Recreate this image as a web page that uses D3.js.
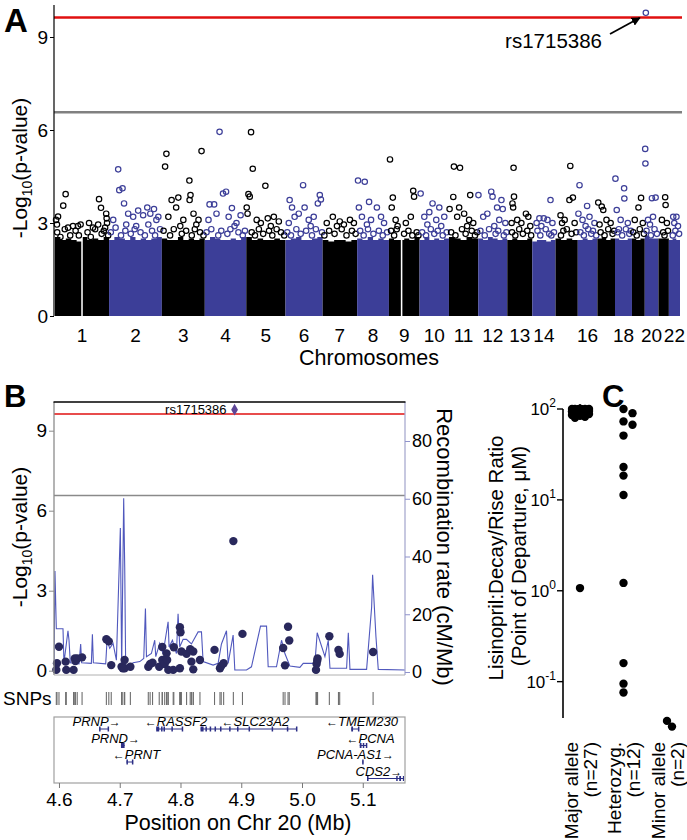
<!DOCTYPE html>
<html>
<head>
<meta charset="utf-8">
<script src="https://cdn.jsdelivr.net/npm/d3@7"></script>
<style>
body { margin: 0; background: #fff; }
svg { font-family: "Liberation Sans", Arial, sans-serif; }
</style>
</head>
<body>
<svg id="fig" width="687" height="840"></svg>
<script>
// ---------- Panel A data (genome-wide scan) ----------
const chromosomes = d3.range(1, 23);
// chromosome lengths, Mb
const chrLengths = [249.3, 243.2, 198.0, 191.2, 180.9, 171.1, 159.1, 146.4, 141.2, 135.5, 135.0,
  133.9, 115.2, 107.3, 102.5, 90.4, 81.2, 78.1, 59.1, 63.0, 48.1, 51.3];
const chrTickLabels = ["1","2","3","4","5","6","7","8","9","10","11","12","13","14","","16","","18","","20","","22"];
// top of the solid mass of SNPs, read across each chromosome
const denseTop = [
  [2.55, 2.45, 2.5, 2.45, 2.4, 2.55, 2.45, 2.5, 2.45, 2.55],
  [2.45, 2.55, 2.5, 2.45, 2.55, 2.45, 2.5, 2.45, 2.5, 2.55],
  [2.5, 2.45, 2.45, 2.55, 2.45, 2.5, 2.45, 2.5],
  [2.45, 2.55, 2.5, 2.45, 2.45, 2.5, 2.45, 2.55],
  [2.55, 2.45, 2.5, 2.45, 2.45, 2.5, 2.45],
  [2.45, 2.5, 2.55, 2.45, 2.45, 2.5, 2.55],
  [2.45, 2.4, 2.45, 2.45, 2.4, 2.45],
  [2.5, 2.45, 2.55, 2.45, 2.5, 2.45],
  [2.5, 2.45, 2.45, 2.5, 2.45, 2.55],
  [2.45, 2.55, 2.45, 2.5, 2.45, 2.5],
  [2.55, 2.5, 2.45, 2.55, 2.5],
  [2.5, 2.45, 2.55, 2.5, 2.45, 2.5],
  [2.45, 2.5, 2.45, 2.45, 2.5],
  [2.4, 2.45, 2.45, 2.4, 2.45],
  [2.5, 2.45, 2.5, 2.45],
  [2.45, 2.5, 2.45, 2.5],
  [2.5, 2.55, 2.45, 2.5],
  [2.5, 2.45, 2.45, 2.5],
  [2.5, 2.45, 2.5],
  [2.6, 2.5, 2.5],
  [2.5, 2.5, 2.5],
  [2.45, 2.5, 2.45]
];
// centromere gaps with no SNPs: [chr, startMb, endMb]
const chrGaps = [[1, 121, 128], [9, 55, 62]];
// SNPs standing above the solid mass: [chr, positionMb, -log10 p]
const peakSnps = [
  [1,49,3.93],[1,38,3.56],[1,14,3.21],[1,5,3.1],[1,9,2.95],[1,203,3.77],[1,212,3.49],[1,236,3.3],[1,238,3.15],[1,240,3.0],
  [1,231,2.85],[1,118,2.95],[1,106,2.9],[1,157,3.0],[1,175,2.85],[1,60,2.85],[1,83,2.9],[1,199,2.95],
  [2,42,4.73],[2,47,4.06],[2,62,4.12],[2,69,3.63],[2,176,3.5],[2,207,3.45],[2,19,3.1],[2,88,3.3],[2,111,3.2],[2,134,3.4],
  [2,157,3.25],[2,190,3.3],[2,218,3.1],[2,227,3.2],[2,79,2.95],[2,125,2.9],[2,181,2.95],
  [3,21,5.23],[3,15,4.82],[3,45,3.74],[3,76,3.82],[3,66,3.5],[3,127,4.37],[3,132,3.9],[3,128,3.74],[3,183,5.32],
  [3,30,3.2],[3,99,3.1],[3,146,3.3],[3,169,3.1],[3,85,2.9],[3,159,2.95],
  [4,68,5.94],[4,98,4.01],[4,84,3.95],[4,22,3.6],[4,43,3.6],[4,125,3.48],[4,17,3.1],[4,54,3.3],[4,110,3.2],[4,146,3.0],
  [4,165,3.25],[4,137,2.9],
  [5,22,5.93],[5,30,4.75],[5,88,4.2],[5,10,3.93],[5,16,3.85],[5,2,3.5],[5,6,3.3],[5,99,3.15],[5,48,3.1],[5,67,3.0],
  [5,127,3.2],[5,150,3.05],[5,113,2.9],
  [6,81,4.22],[6,19,3.74],[6,30,3.5],[6,158,3.9],[6,163,3.76],[6,149,3.63],[6,88,3.5],[6,42,3.2],[6,61,3.3],[6,107,3.1],
  [6,130,3.2],[6,15,3.0],[6,116,2.9],
  [7,47,3.2],[7,79,3.05],[7,126,3.1],[7,19,3.0],[7,98,2.95],[7,144,3.0],[7,66,2.9],
  [8,4,4.37],[8,35,4.33],[8,55,3.68],[8,8,3.5],[8,91,3.5],[8,22,3.2],[8,64,3.1],[8,110,3.2],[8,124,3.0],[8,45,2.95],
  [9,5,5.05],[9,18,3.82],[9,13,3.5],[9,112,4.04],[9,116,3.85],[9,31,3.1],[9,78,3.0],[9,101,3.2],[9,40,2.9],
  [10,5,3.95],[10,60,3.63],[10,91,3.5],[10,22,3.2],[10,45,3.35],[10,77,3.1],[10,114,3.2],[10,36,2.95],[10,100,2.9],
  [11,23,4.82],[11,51,4.78],[11,20,3.84],[11,47,3.5],[11,3,3.45],[11,98,3.9],[11,70,3.3],[11,93,3.1],[11,38,3.2],
  [11,112,3.0],[11,84,2.9],
  [12,1,3.9],[12,60,4.01],[12,66,3.85],[12,107,3.74],[12,87,3.5],[12,113,3.45],[12,23,3.2],[12,42,3.3],[12,97,3.1],
  [12,125,3.0],[12,74,2.9],
  [13,29,4.78],[13,31,3.85],[13,24,3.63],[13,27,3.5],[13,86,3.3],[13,97,3.2],[13,46,3.1],[13,65,3.0],[13,20,3.0],[13,106,2.9],
  [14,84,3.74],[14,33,3.15],[14,53,3.15],[14,20,3.0],[14,70,3.1],[14,93,3.0],[14,42,2.9],
  [15,68,4.84],[15,80,3.82],[15,64,3.74],[15,23,3.25],[15,42,3.1],[15,30,3.0],[15,88,3.0],
  [16,8,4.22],[16,43,3.55],[16,3,3.3],[16,22,3.1],[16,54,3.2],[16,77,3.0],[16,36,2.9],
  [17,4,3.66],[17,20,3.53],[17,27,3.42],[17,42,3.1],[17,61,3.0],[17,10,2.95],
  [18,2,4.43],[18,42,4.12],[18,43,3.79],[18,8,3.42],[18,26,3.1],[18,59,3.0],[18,18,2.8],
  [19,42,3.81],[19,30,3.5],[19,13,3.1],[19,50,3.0],
  [20,2,5.39],[20,3,4.92],[20,33,3.8],[20,50,3.82],[20,15,3.1],[20,38,3.2],[20,24,2.95],
  [21,31,3.83],[21,33,3.58],[21,16,3.1],[21,39,3.0],
  [22,20,3.2],[22,35,3.2],[22,25,3.0],[22,42,2.9]
];
// SNPs in the crowded band just above the solid mass
const bandSnps = [
  [1,10,2.7],[1,25,2.55],[1,45,2.8],[1,70,2.6],[1,95,2.75],[1,110,2.6],[1,150,2.7],[1,165,2.55],[1,185,2.8],[1,215,2.65],[1,225,2.75],[1,245,2.6],
  [2,8,2.7],[2,30,2.85],[2,55,2.6],[2,75,2.75],[2,100,2.65],[2,118,2.8],[2,145,2.7],[2,165,2.6],[2,198,2.75],[2,212,2.6],[2,235,2.8],
  [3,8,2.75],[3,38,2.6],[3,55,2.8],[3,92,2.65],[3,112,2.75],[3,138,2.6],[3,152,2.8],[3,176,2.7],[3,192,2.6],
  [4,8,2.7],[4,30,2.8],[4,62,2.6],[4,76,2.75],[4,104,2.65],[4,118,2.8],[4,155,2.7],[4,175,2.6],[4,185,2.75],
  [5,25,2.7],[5,40,2.6],[5,58,2.8],[5,78,2.65],[5,105,2.75],[5,120,2.6],[5,140,2.8],[5,160,2.7],[5,175,2.6],
  [6,8,2.7],[6,25,2.6],[6,50,2.8],[6,70,2.65],[6,95,2.75],[6,122,2.6],[6,140,2.8],[6,168,2.7],
  [7,8,2.6],[7,30,2.75],[7,55,2.65],[7,88,2.8],[7,110,2.6],[7,135,2.75],[7,152,2.65],
  [8,14,2.75],[8,30,2.6],[8,50,2.8],[8,75,2.65],[8,100,2.75],[8,118,2.6],[8,138,2.7],
  [9,10,2.75],[9,24,2.6],[9,36,2.8],[9,70,2.65],[9,90,2.75],[9,108,2.6],[9,128,2.7],[9,136,2.6],
  [10,12,2.7],[10,30,2.6],[10,52,2.8],[10,68,2.65],[10,84,2.75],[10,107,2.6],[10,125,2.7],
  [11,10,2.7],[11,30,2.6],[11,60,2.8],[11,77,2.65],[11,105,2.75],[11,120,2.6],[11,130,2.7],
  [12,10,2.75],[12,30,2.6],[12,50,2.8],[12,80,2.65],[12,92,2.75],[12,118,2.6],[12,130,2.7],
  [13,22,2.7],[13,37,2.6],[13,55,2.8],[13,72,2.65],[13,92,2.75],[13,110,2.6],
  [14,24,2.75],[14,37,2.6],[14,62,2.8],[14,78,2.65],[14,88,2.6],[14,100,2.7],
  [15,25,2.6],[15,36,2.75],[15,52,2.8],[15,74,2.65],[15,95,2.7],
  [16,12,2.7],[16,28,2.6],[16,48,2.8],[16,62,2.65],[16,70,2.75],[16,85,2.6],
  [17,15,2.7],[17,33,2.6],[17,50,2.8],[17,70,2.65],[17,77,2.75],
  [18,12,2.7],[18,33,2.6],[18,50,2.8],[18,66,2.65],[18,73,2.75],
  [19,6,2.7],[19,22,2.6],[19,36,2.8],[19,55,2.65],
  [20,8,2.75],[20,28,2.6],[20,45,2.8],[20,56,2.65],
  [21,22,2.7],[21,28,2.6],[21,44,2.75],
  [22,18,2.6],[22,30,2.75],[22,47,2.65]
];
const topHit = [20, 4.89, 9.78];           // rs1715386
const thresholdLines = [6.57, 9.63];       // grey and red lines

// ---------- Panel B data (chr 20 region) ----------
// [position Mb, -log10 p]
const regionSnps = [
  [4.5956,0.03],[4.5967,0.28],[4.600,0.90],[4.611,0.34],[4.612,0.03],[4.624,0.03],[4.626,0.46],[4.627,0.36],[4.630,0.46],
  [4.638,0.50],[4.678,1.18],[4.682,1.10],[4.686,0.21],[4.703,0.15],[4.705,0.09],[4.708,0.40],[4.708,0.09],[4.7175,0.15],
  [4.747,0.15],[4.750,0.25],[4.754,0.30],[4.765,0.15],[4.770,0.89],[4.770,0.40],[4.774,0.25],[4.777,0.65],[4.778,0.40],
  [4.780,0.03],[4.788,0.03],[4.789,0.88],[4.799,1.63],[4.800,1.44],[4.799,0.09],[4.8015,0.72],[4.810,0.63],[4.816,0.81],
  [4.821,0.72],[4.818,0.34],[4.821,0.05],[4.832,0.40],[4.856,0.78],[4.865,0.09],[4.867,0.18],[4.871,0.28],[4.887,4.86],
  [4.902,1.38],[4.969,0.85],[4.972,0.20],[4.977,1.65],[4.979,1.13],[5.023,0.03],[5.024,0.25],[5.025,0.37],[5.0256,0.46],
  [5.045,1.29],[5.060,0.78],[5.062,0.63],[5.117,0.70]
];
const leadSnp = ["rs1715386", 4.889, 9.79];
// recombination rate, [position Mb, cM/Mb]
const recombRate = [
  [4.5918,1.8],[4.5934,35],[4.5956,15],[4.6066,15],[4.6082,3.2],[4.6148,14.3],[4.6165,11],[4.6187,3.2],[4.633,2.8],
  [4.6357,9.7],[4.6373,3.2],[4.6533,3],[4.655,13.1],[4.6566,3.2],[4.6769,2.8],[4.6791,11],[4.6835,8.2],[4.689,9.9],
  [4.6945,4.1],[4.701,49.9],[4.7032,1.8],[4.7065,60.2],[4.7082,36.3],[4.7098,0.9],[4.722,3.2],[4.733,3.6],[4.7395,4.7],
  [4.7423,22],[4.744,5.3],[4.7521,6.4],[4.7576,11],[4.7593,5.3],[4.7658,9.9],[4.7713,6.4],[4.7796,17.4],[4.7812,8.7],
  [4.7867,11],[4.7933,6.4],[4.796,20.2],[4.7988,8.7],[4.8043,11.3],[4.8098,11.3],[4.818,9.7],[4.829,13.9],[4.8345,13.9],
  [4.8372,3.6],[4.8537,2.4],[4.8619,3],[4.8674,9.7],[4.8757,14.3],[4.8784,3],[4.8866,12.8],[4.8894,0.7],[4.9086,0.7],
  [4.9168,1.8],[4.9317,15.9],[4.9416,15.9],[4.9443,1.8],[4.958,1.8],[4.9663,11],[4.9718,6.4],[4.98,2.1],[4.9965,1.6],
  [5.002,3],[5.0212,3],[5.025,13.6],[5.0377,5.3],[5.0432,11],[5.046,1.3],[5.0734,1.3],[5.0762,13.6],[5.0789,0.9],
  [5.1063,0.9],[5.1146,22.5],[5.1162,33.7],[5.1217,12.2],[5.1255,0.9],[5.1695,0.7]
];
const geneNames  = ["PRNP", "PRND", "PRNT", "RASSF2", "SLC23A2", "TMEM230", "PCNA", "PCNA-AS1", "CDS2"];
const geneStart  = [4.666, 4.702, 4.711, 4.760, 4.833, 5.081, 5.095, 5.099, 5.107];
const geneEnd    = [4.682, 4.708, 4.722, 4.803, 4.991, 5.094, 5.107, 5.101, 5.178];
const geneStrand = ["+", "+", "-", "-", "-", "-", "-", "+", "+"];
const geneExons  = [
  [[4.666,4.667],[4.680,4.682]],
  [[4.702,4.708]],
  [[4.711,4.712],[4.720,4.722]],
  [[4.760,4.765],[4.768,4.769],[4.772,4.774],[4.785,4.786],[4.802,4.803]],
  [[4.833,4.838],[4.841,4.843],[4.848,4.849],[4.856,4.857],[4.865,4.866],[4.880,4.881],[4.893,4.894],[4.912,4.913],[4.950,4.951],[4.975,4.976],[4.990,4.991]],
  [[5.081,5.084],[5.092,5.094]],
  [[5.095,5.098],[5.100,5.101],[5.105,5.107]],
  [[5.099,5.1005]],
  [[5.107,5.108],[5.155,5.157],[5.160,5.163],[5.166,5.170]]
];
const posTicks = [4.6, 4.7, 4.8, 4.9, 5.0, 5.1];

// ---------- Panel C data ----------
const genotypes = ["Major allele", "Heterozyg.", "Minor allele"];
const genotypeN = [27, 12, 2];
const majorVals = [100,100,100,100,100,100,100,100,100,100,100,100,100,98,97,96,95,94,93,92,90,88,86,84,82,80,1.07];
const hetVals   = [100, 90, 73, 67, 51, 23, 18.5, 11.3, 1.22, 0.16, 0.095, 0.076];
const minorVals = [0.037, 0.032];
const ratioTicks = [100, 10, 1, 0.1];
const ratioTickExp = ["2", "1", "0", "-1"];

const svg = d3.select("#fig");
const blueA = "#3c3e98";
const redLine = "#e01010";

// ================= Panel A =================
const gA = svg.append("g");
const cumStart = [];
let total = 0;
chrLengths.forEach(l => { cumStart.push(total); total += l; });
const xA = d3.scaleLinear().domain([0, total]).range([55, 680]);
const yA = d3.scaleLinear().domain([0, 9]).range([316, 37]);
const colA = c => (c % 2 ? "#000" : blueA);
const gpos = (c, mb) => xA(cumStart[c - 1] + mb);

// solid mass per chromosome
const denseArea = d3.area().curve(d3.curveStepAfter)
  .x(d => xA(d[0])).y0(yA(0)).y1(d => yA(d[1]));
chromosomes.forEach((c, i) => {
  const tops = denseTop[i];
  const n = tops.length;
  const pts = tops.map((t, k) => [cumStart[i] + k * chrLengths[i] / n, t]);
  pts.push([cumStart[i] + chrLengths[i], tops[n - 1]]);
  gA.append("path").datum(pts).attr("d", denseArea).attr("fill", colA(c));
});
chrGaps.forEach(g => {
  gA.append("rect")
    .attr("x", gpos(g[0], g[1])).attr("width", gpos(g[0], g[2]) - gpos(g[0], g[1]))
    .attr("y", yA(2.9)).attr("height", yA(0) - yA(2.9) + 1)
    .attr("fill", "#fff");
});

// threshold lines
gA.append("line").attr("x1", 54).attr("x2", 682)
  .attr("y1", yA(thresholdLines[0])).attr("y2", yA(thresholdLines[0]))
  .attr("stroke", "#808080").attr("stroke-width", 2.5);
gA.append("line").attr("x1", 54).attr("x2", 682)
  .attr("y1", yA(thresholdLines[1])).attr("y2", yA(thresholdLines[1]))
  .attr("stroke", redLine).attr("stroke-width", 2.5);

// hollow points above the mass
gA.selectAll(".snpA")
  .data(bandSnps.concat(peakSnps, [topHit]))
  .enter().append("circle")
  .attr("class", "snpA")
  .attr("cx", d => gpos(d[0], d[1]))
  .attr("cy", d => yA(d[2]))
  .attr("r", 2.7)
  .attr("fill", "none")
  .attr("stroke", d => colA(d[0]))
  .attr("stroke-width", 1.2);

// y axis
gA.append("line").attr("x1", 54).attr("x2", 54).attr("y1", 5).attr("y2", 316)
  .attr("stroke", "#000").attr("stroke-width", 1.2);
const yAxisA = gA.append("g").attr("transform", "translate(54,0)")
  .call(d3.axisLeft(yA).tickValues([0, 3, 6, 9]).tickSize(4).tickPadding(2));
yAxisA.select(".domain").remove();
yAxisA.selectAll("text").attr("font-size", 19).attr("font-family", "Liberation Sans, Arial, sans-serif");

gA.append("text").attr("transform", "translate(27,168) rotate(-90)")
  .attr("text-anchor", "middle").attr("font-size", 21)
  .call(t => {
    t.append("tspan").text("-Log");
    t.append("tspan").attr("font-size", 14).attr("dy", 5).text("10");
    t.append("tspan").attr("dy", -5).text("(p-value)");
  });

// chromosome labels
gA.selectAll(".chrLab")
  .data(chromosomes)
  .enter().append("text")
  .attr("class", "chrLab")
  .attr("x", c => xA(cumStart[c - 1] + chrLengths[c - 1] / 2))
  .attr("y", 342)
  .attr("text-anchor", "middle")
  .attr("font-size", 19)
  .text(c => chrTickLabels[c - 1]);
gA.append("text").attr("x", 369).attr("y", 365).attr("text-anchor", "middle")
  .attr("font-size", 21.5).text("Chromosomes");

// annotation of the top hit
svg.append("defs").append("marker")
  .attr("id", "arrowHead").attr("viewBox", "0 0 10 10")
  .attr("refX", 9).attr("refY", 5).attr("markerWidth", 5).attr("markerHeight", 5)
  .attr("orient", "auto")
  .append("path").attr("d", "M0,0 L10,5 L0,10 z").attr("fill", "#000");
gA.append("text").attr("x", 602).attr("y", 48).attr("text-anchor", "end")
  .attr("font-size", 20.5).text("rs1715386");
gA.append("line").attr("x1", 610).attr("y1", 34)
  .attr("x2", gpos(topHit[0], topHit[1]) - 6).attr("y2", yA(topHit[2]) + 5)
  .attr("stroke", "#000").attr("stroke-width", 1.8).attr("marker-end", "url(#arrowHead)");

svg.append("text").attr("x", 4).attr("y", 32).attr("font-size", 33).attr("font-weight", "bold").text("A");

// ================= Panel B =================
const gB = svg.append("g");
const xB = d3.scaleLinear().domain([4.5918, 5.1695]).range([54, 405]);
const yB = d3.scaleLinear().domain([0, 9]).range([670.7, 430.7]);
const rB = d3.scaleLinear().domain([0, 80]).range([672, 441]);
const frameTop = 402, frameBottom = 675;

gB.append("clipPath").attr("id", "clipB").append("rect")
  .attr("x", 54).attr("y", frameTop).attr("width", 351).attr("height", frameBottom - frameTop);

// threshold lines
gB.append("line").attr("x1", 54).attr("x2", 405)
  .attr("y1", yB(thresholdLines[0])).attr("y2", yB(thresholdLines[0]))
  .attr("stroke", "#8a8a8a").attr("stroke-width", 1.5);
gB.append("line").attr("x1", 54).attr("x2", 405)
  .attr("y1", yB(thresholdLines[1])).attr("y2", yB(thresholdLines[1]))
  .attr("stroke", redLine).attr("stroke-width", 1.5);

// recombination rate
gB.append("path").datum(recombRate)
  .attr("clip-path", "url(#clipB)")
  .attr("d", d3.line().x(d => xB(d[0])).y(d => rB(d[1])))
  .attr("fill", "none").attr("stroke", "#5058bd").attr("stroke-width", 1.1);

// SNP dots
gB.selectAll(".snpB")
  .data(regionSnps)
  .enter().append("circle")
  .attr("class", "snpB")
  .attr("cx", d => xB(d[0])).attr("cy", d => yB(d[1]))
  .attr("r", 4.2).attr("fill", "#29285c");

// lead SNP
gB.append("path")
  .attr("d", d3.symbol(d3.symbolDiamond, 40)())
  .attr("transform", `translate(${xB(leadSnp[1])},${yB(leadSnp[2])})`)
  .attr("fill", "#5d4596");
gB.append("text").attr("x", xB(leadSnp[1]) - 8).attr("y", yB(leadSnp[2]) + 4.5)
  .attr("text-anchor", "end").attr("font-size", 13).text(leadSnp[0]);

// frame
gB.append("line").attr("x1", 54).attr("x2", 54).attr("y1", frameTop).attr("y2", frameBottom)
  .attr("stroke", "#8c8c8c").attr("stroke-width", 1.3);
gB.append("line").attr("x1", 405).attr("x2", 405).attr("y1", frameTop).attr("y2", frameBottom)
  .attr("stroke", "#a9abd0").attr("stroke-width", 1.3);
gB.append("line").attr("x1", 54).attr("x2", 405).attr("y1", frameBottom).attr("y2", frameBottom)
  .attr("stroke", "#b0b0b0").attr("stroke-width", 1);
gB.append("line").attr("x1", 53.5).attr("x2", 405.5).attr("y1", frameTop).attr("y2", frameTop)
  .attr("stroke", "#000").attr("stroke-width", 1.4);

// left axis
const yAxisB = gB.append("g").attr("transform", "translate(54,0)")
  .call(d3.axisLeft(yB).tickValues([0, 3, 6, 9]).tickSize(5).tickPadding(2));
yAxisB.select(".domain").remove();
yAxisB.selectAll("line").attr("stroke", "#8c8c8c");
yAxisB.selectAll("text").attr("font-size", 19).attr("font-family", "Liberation Sans, Arial, sans-serif");

// right axis
const rAxisB = gB.append("g").attr("transform", "translate(405,0)")
  .call(d3.axisRight(rB).tickValues([0, 20, 40, 60, 80]).tickSize(5).tickPadding(2));
rAxisB.select(".domain").remove();
rAxisB.selectAll("line").attr("stroke", "#8f93cc");
rAxisB.selectAll("text").attr("font-size", 18).attr("font-family", "Liberation Sans, Arial, sans-serif");

gB.append("text").attr("transform", "translate(27,537) rotate(-90)")
  .attr("text-anchor", "middle").attr("font-size", 21)
  .call(t => {
    t.append("tspan").text("-Log");
    t.append("tspan").attr("font-size", 14).attr("dy", 5).text("10");
    t.append("tspan").attr("dy", -5).text("(p-value)");
  });
gB.append("text").attr("transform", "translate(437,547) rotate(90)")
  .attr("text-anchor", "middle").attr("font-size", 22).text("Recombination rate (cM/Mb)");

// SNP rug
gB.append("text").attr("x", 3).attr("y", 705).attr("font-size", 19).text("SNPs");
gB.selectAll(".rug")
  .data(regionSnps)
  .enter().append("line")
  .attr("class", "rug")
  .attr("x1", d => xB(d[0])).attr("x2", d => xB(d[0]))
  .attr("y1", 692).attr("y2", 705)
  .attr("stroke", "#6e6e6e").attr("stroke-width", 1.1);

// gene track
const boxTop = 717, boxBottom = 783;
gB.append("rect").attr("x", 54).attr("y", boxTop).attr("width", 351).attr("height", boxBottom - boxTop)
  .attr("fill", "none").attr("stroke", "#a0a0a0").attr("stroke-width", 1.2);
gB.append("clipPath").attr("id", "clipGenes").append("rect")
  .attr("x", 55).attr("y", boxTop).attr("width", 349).attr("height", boxBottom - boxTop);

const genes = geneNames.map((name, i) => ({
  name, start: geneStart[i], end: geneEnd[i], strand: geneStrand[i], exons: geneExons[i]
}));
const geneG = gB.append("g");
// measure a string in the gene label style
const measure = (str, size) => {
  const tmp = geneG.append("text").attr("font-size", size).attr("font-style", "italic").text(str);
  const w = tmp.node().getBBox().width;
  tmp.remove();
  return w;
};
const arrowW = measure("\u2190", 12);
const rowEnds = [];
genes.sort((a, b) => a.start - b.start).forEach(g => {
  const plus = g.strand === "+";
  const w = measure(g.name, 13) + arrowW;
  // label sits slightly toward the direction the arrow points from
  let left = xB((g.start + g.end) / 2) - w / 2 + (plus ? -0.6 : 0.6) * arrowW;
  left = Math.max(57, Math.min(403 - w, left));
  let row = rowEnds.findIndex(e => e - 2 < left);
  if (row < 0) { row = rowEnds.length; rowEnds.push(0); }
  rowEnds[row] = left + w;
  const lineY = 729 + row * 16.5;
  const t = geneG.append("text").attr("font-size", 13).attr("font-style", "italic")
    .attr("x", left).attr("y", lineY - 3);
  if (!plus) t.append("tspan").attr("font-size", 12).text("\u2190");
  t.append("tspan").text(g.name);
  if (plus) t.append("tspan").attr("font-size", 12).text("\u2192");
  const gg = geneG.append("g").attr("clip-path", "url(#clipGenes)");
  gg.append("line").attr("x1", xB(g.start)).attr("x2", xB(g.end))
    .attr("y1", lineY).attr("y2", lineY).attr("stroke", "#2c2f86").attr("stroke-width", 1);
  gg.selectAll("rect").data(g.exons).enter().append("rect")
    .attr("x", e => xB(e[0]))
    .attr("width", e => Math.max(1.5, xB(e[1]) - xB(e[0])))
    .attr("y", lineY - 2.5).attr("height", 5)
    .attr("fill", "#2c2f86");
});

// position axis
const xAxisB = gB.append("g").attr("transform", `translate(0,${boxBottom})`)
  .call(d3.axisBottom(xB).tickValues(posTicks).tickFormat(d3.format(".1f")).tickSize(5).tickPadding(5));
xAxisB.select(".domain").remove();
xAxisB.selectAll("line").attr("stroke", "#777");
xAxisB.selectAll("text").attr("font-size", 19).attr("font-family", "Liberation Sans, Arial, sans-serif");
gB.append("text").attr("x", 238).attr("y", 830).attr("text-anchor", "middle")
  .attr("font-size", 21.5).text("Position on Chr 20 (Mb)");

svg.append("text").attr("x", 4).attr("y", 407).attr("font-size", 31).attr("font-weight", "bold").text("B");

// ================= Panel C =================
const gC = svg.append("g");
const yC = d3.scaleLog().domain([Math.pow(10, -1.4), 100]).range([718, 409]);
const xC = d3.scalePoint().domain(genotypes).range([580, 667]);

gC.append("line").attr("x1", 563).attr("x2", 563).attr("y1", yC(100)).attr("y2", 718)
  .attr("stroke", "#000").attr("stroke-width", 1.6);
gC.selectAll(".tickC").data(ratioTicks).enter().append("line")
  .attr("x1", 557).attr("x2", 563).attr("y1", d => yC(d)).attr("y2", d => yC(d))
  .attr("stroke", "#000").attr("stroke-width", 1.4);
gC.selectAll(".tickLabC").data(ratioTicks).enter().append("text")
  .attr("x", 556).attr("y", d => yC(d) + 6)
  .attr("text-anchor", "end").attr("font-size", 17)
  .each(function(d, i) {
    const t = d3.select(this);
    t.append("tspan").text("10");
    t.append("tspan").attr("font-size", 12).attr("dy", -8).text(ratioTickExp[i]);
  });

gC.append("text").attr("transform", "translate(496,558) rotate(-90)")
  .attr("text-anchor", "middle").attr("dy", "0.35em").attr("font-size", 20.5)
  .text("Lisinopril:Decay/Rise Ratio");
gC.append("text").attr("transform", "translate(519,556) rotate(-90)")
  .attr("text-anchor", "middle").attr("dy", "0.35em").attr("font-size", 20.5)
  .text("(Point of Departure, \u03bcM)");

// nudge points sideways a little; identical values are allowed to overlap
const rC = 4.2;
[majorVals, hetVals, minorVals].forEach((vals, gi) => {
  const cx = xC(genotypes[gi]);
  const placed = [];
  vals.slice().sort((a, b) => b - a).forEach(v => {
    const cy = yC(v);
    let best = 0, bestGap = -1;
    for (const off of [0, 5, -5, 9, -8]) {
      const gap = d3.min(placed, p => Math.hypot(p[0] - (cx + off), p[1] - cy));
      const gv = gap === undefined ? Infinity : gap;
      if (gv >= 2 * rC - 1) { best = off; bestGap = gv; break; }
      if (gv > bestGap) { bestGap = gv; best = off; }
    }
    placed.push([cx + best, cy]);
  });
  gC.selectAll(null).data(placed).enter().append("circle")
    .attr("cx", d => d[0]).attr("cy", d => d[1]).attr("r", rC).attr("fill", "#000");
});

genotypes.forEach((gname, i) => {
  const cx = xC(gname);
  gC.append("text").attr("transform", `translate(${cx - 9},742) rotate(-90)`)
    .attr("text-anchor", "end").attr("dy", "0.35em").attr("font-size", 19).text(gname);
  gC.append("text").attr("transform", `translate(${cx + 10},742) rotate(-90)`)
    .attr("text-anchor", "end").attr("dy", "0.35em").attr("font-size", 19).text(`(n=${genotypeN[i]})`);
});

svg.append("text").attr("x", 602).attr("y", 407).attr("font-size", 31).attr("font-weight", "bold").text("C");
</script>
</body>
</html>
